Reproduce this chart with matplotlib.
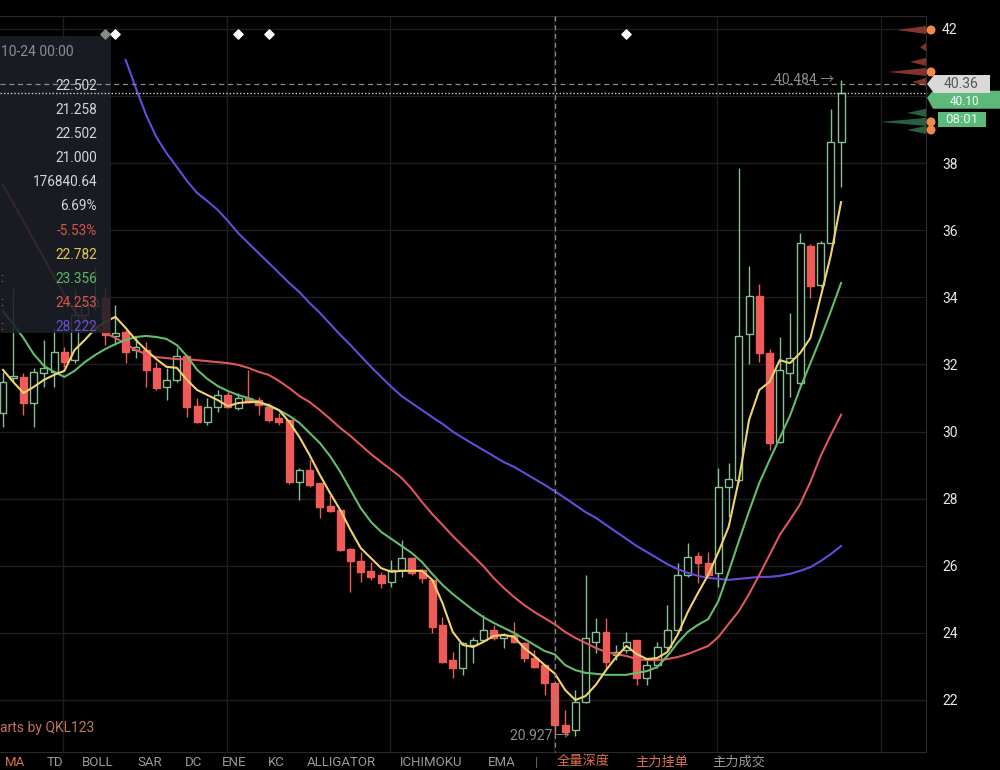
import matplotlib
matplotlib.use('Agg')
import matplotlib.pyplot as plt
from matplotlib.patches import Rectangle, Polygon, Circle
import numpy as np

plt.rcParams['font.family'] = ['Roboto', 'Noto Sans CJK SC', 'DejaVu Sans']

# candles, one per 4h bar
opens = [30.55, 31.60, 31.63, 30.85, 31.75, 31.78, 32.37, 32.13, 33.47, 33.74,
         33.98, 32.85, 32.97, 32.43, 32.43, 31.90, 31.33, 31.54, 32.25, 30.76,
         30.29, 30.73, 31.09, 30.70, 31.00, 30.94, 30.73, 30.41, 30.35, 28.50,
         28.86, 28.47, 27.78, 27.66, 26.50, 26.14, 25.85, 25.73, 25.52, 25.88,
         26.23, 25.88, 25.58, 24.24, 23.19, 22.95, 23.64, 23.79, 24.09, 23.85,
         23.94, 23.70, 23.25, 23.04, 22.502, 21.26, 21.11, 21.94, 23.73, 24.03,
         23.34, 23.49, 23.79, 22.65, 23.04, 23.58, 24.09, 25.73, 26.29, 26.08,
         25.79, 28.35, 28.56, 32.91, 34.04, 32.34, 29.69, 31.75, 31.45, 35.53,
         34.37, 35.62, 38.63]
closes = [31.48, 31.66, 30.85, 31.78, 31.90, 32.37, 32.07, 33.47, 33.77, 33.92,
          32.88, 32.94, 32.37, 32.52, 31.84, 31.30, 31.54, 32.25, 30.73, 30.29,
          30.73, 31.09, 30.73, 31.00, 30.88, 30.79, 30.35, 30.29, 28.50, 28.86,
          28.41, 27.75, 27.63, 26.47, 26.14, 25.81, 25.67, 25.49, 25.88, 26.23,
          25.79, 25.64, 24.18, 23.13, 22.95, 23.70, 23.79, 24.09, 23.85, 23.94,
          23.73, 23.25, 22.98, 22.50, 21.258, 21.05, 21.94, 23.85, 24.03, 23.13,
          23.43, 23.73, 22.65, 23.04, 23.58, 24.09, 25.73, 26.26, 26.08, 25.73,
          28.35, 28.59, 32.85, 34.04, 32.34, 29.66, 31.84, 32.19, 35.62, 34.34,
          35.62, 38.63, 40.10]
highs = [31.78, 34.28, 31.75, 31.90, 32.73, 33.09, 32.52, 34.22, 34.07, 34.91,
         34.28, 33.77, 33.03, 32.82, 32.67, 32.07, 31.90, 32.49, 32.28, 31.00,
         31.00, 31.24, 31.18, 31.15, 31.84, 31.03, 30.85, 30.55, 30.35, 28.92,
         29.15, 28.47, 28.11, 27.69, 26.53, 26.41, 26.11, 25.82, 26.17, 26.77,
         26.26, 25.90, 25.61, 24.47, 23.43, 23.73, 23.88, 24.53, 24.24, 24.00,
         24.33, 23.73, 23.49, 23.04, 22.502, 21.70, 22.30, 25.73, 24.44, 24.44,
         23.64, 24.03, 23.79, 23.19, 23.73, 24.83, 26.08, 26.68, 26.41, 26.41,
         28.92, 29.06, 37.86, 34.94, 34.40, 32.46, 32.82, 33.54, 35.92, 35.59,
         35.68, 39.62, 40.484]
lows = [30.14, 31.48, 30.49, 30.14, 31.33, 31.33, 31.92, 32.04, 33.33, 33.62,
        32.58, 32.58, 32.04, 32.19, 31.33, 31.24, 30.94, 31.48, 30.43, 30.26,
        30.20, 30.58, 30.70, 30.64, 30.85, 30.49, 30.29, 30.20, 28.44, 27.96,
        28.35, 27.42, 27.60, 26.44, 25.22, 25.52, 25.58, 25.34, 25.37, 25.67,
        25.73, 25.49, 24.00, 23.10, 22.65, 22.75, 23.10, 23.73, 23.79, 23.55,
        23.70, 23.13, 22.95, 22.15, 21.000, 20.96, 20.927, 21.91, 23.40, 22.95,
        23.19, 23.40, 22.45, 22.45, 22.95, 23.49, 24.00, 25.67, 25.49, 25.64,
        25.37, 27.45, 28.50, 32.01, 32.07, 29.45, 29.66, 31.03, 31.39, 33.98,
        34.31, 35.62, 37.29]

# moving average lines as drawn on the chart
ma5 = [31.84, 31.48, 31.15, 31.33, 31.54, 31.69, 31.81, 32.43, 32.73, 33.06,
       33.27, 33.42, 33.09, 32.73, 32.43, 32.16, 31.93, 31.90, 31.54, 31.24,
       31.09, 30.94, 30.76, 30.85, 30.88, 30.88, 30.79, 30.64, 30.29, 29.84,
       29.30, 28.71, 28.17, 27.66, 27.07, 26.53, 26.23, 25.93, 25.82, 25.85,
       25.85, 25.85, 25.58, 24.89, 24.03, 23.64, 23.58, 23.73, 23.91, 23.94,
       23.88, 23.55, 23.31, 23.04, 22.782, 22.30, 22.00, 22.12, 22.45, 22.89,
       23.28, 23.61, 23.37, 23.22, 23.25, 23.43, 23.94, 24.62, 25.19, 25.73,
       26.41, 27.16, 28.56, 30.35, 31.24, 31.48, 32.13, 32.04, 32.34, 32.79,
       34.01, 35.26, 36.84]
ma10 = [33.59, 33.21, 32.79, 32.31, 31.96, 31.78, 31.63, 31.81, 32.07, 32.28,
        32.46, 32.61, 32.73, 32.82, 32.85, 32.82, 32.76, 32.58, 32.25, 31.84,
        31.57, 31.36, 31.21, 31.09, 31.00, 30.88, 30.76, 30.64, 30.47, 30.26,
        29.96, 29.66, 29.27, 28.80, 28.26, 27.72, 27.31, 27.01, 26.80, 26.59,
        26.38, 26.11, 25.76, 25.43, 25.16, 24.92, 24.68, 24.47, 24.30, 24.15,
        24.00, 23.82, 23.64, 23.46, 23.356, 23.04, 22.89, 22.81, 22.78, 22.75,
        22.75, 22.75, 22.81, 22.86, 22.98, 23.31, 23.70, 24.03, 24.24, 24.41,
        24.95, 25.82, 26.74, 27.63, 28.47, 29.15, 29.81, 30.47, 31.30, 32.04,
        32.79, 33.59, 34.43]
ma30 = [37.35, 36.81, 36.28, 35.71, 35.17, 34.61, 34.07, 33.59, 33.33, 33.12,
        32.94, 32.79, 32.61, 32.43, 32.31, 32.22, 32.19, 32.16, 32.16, 32.13,
        32.10, 32.07, 32.04, 31.99, 31.90, 31.78, 31.69, 31.51, 31.30, 31.06,
        30.88, 30.64, 30.38, 30.11, 29.87, 29.60, 29.33, 29.09, 28.86, 28.62,
        28.29, 27.90, 27.54, 27.22, 26.89, 26.59, 26.29, 25.99, 25.64, 25.34,
        25.07, 24.83, 24.62, 24.44, 24.253, 24.03, 23.85, 23.70, 23.55, 23.43,
        23.37, 23.31, 23.22, 23.19, 23.19, 23.22, 23.28, 23.37, 23.49, 23.61,
        23.88, 24.27, 24.65, 25.16, 25.73, 26.32, 26.92, 27.37, 27.84, 28.50,
        29.27, 29.90, 30.50]
ma60 = [None] * 12 + [41.08, 40.24, 39.44, 38.78, 38.30, 37.89, 37.47, 37.11,
        36.87, 36.61, 36.28, 35.92, 35.62, 35.32, 35.03, 34.73, 34.43, 34.16,
        33.83, 33.54, 33.21, 32.88, 32.58, 32.25, 31.93, 31.63, 31.33, 31.06,
        30.85, 30.64, 30.43, 30.23, 30.00, 29.81, 29.63, 29.45, 29.27, 29.09,
        28.95, 28.77, 28.59, 28.41, 28.222, 28.02, 27.81, 27.60, 27.43, 27.22,
        27.01, 26.80, 26.59, 26.41, 26.23, 26.05, 25.90, 25.79, 25.70, 25.64,
        25.61, 25.58, 25.61, 25.64, 25.67, 25.67, 25.70, 25.76, 25.85, 25.96,
        26.14, 26.35, 26.59]

price_ticks = [22, 24, 26, 28, 30, 32, 34, 36, 38, 40, 42]
event_marks = [10, 11, 23, 26, 61]
hover_idx = 54
hover_price = 40.36
last_price = 40.10
max_price = 40.484
min_price = 20.927

# order book depth beside the price axis
ask_prices = [41.97, 41.46, 41.02, 40.72, 40.42]
ask_sizes = [29, 6, 16, 38, 14]
bid_prices = [39.50, 39.23, 38.99]
bid_sizes = [19, 46, 19]
dot_prices = [41.97, 40.72, 39.23, 38.99]

panel_rows = [('22.502', '#d6d6d6'), ('21.258', '#d6d6d6'), ('22.502', '#d6d6d6'),
              ('21.000', '#d6d6d6'), ('176840.64', '#d6d6d6'), ('6.69%', '#d6d6d6'),
              ('-5.53%', '#d9534f'), ('22.782', '#e8c85a'), ('23.356', '#5bb56a'),
              ('24.253', '#d9534f'), ('28.222', '#6a4fd6')]
toolbar = [('MA', 5, '#e0714f'), ('TD', 47, '#9a9a9a'), ('BOLL', 82, '#9a9a9a'),
           ('SAR', 137, '#9a9a9a'), ('DC', 185, '#9a9a9a'), ('ENE', 222, '#9a9a9a'),
           ('KC', 268, '#9a9a9a'), ('ALLIGATOR', 307, '#9a9a9a'),
           ('ICHIMOKU', 400, '#9a9a9a'), ('EMA', 488, '#9a9a9a'), ('|', 535, '#6a6a6a'),
           ('全量深度', 557, '#e0714f'), ('主力挂单', 635, '#e0714f'),
           ('主力成交', 712, '#9a9a9a')]

BG = '#000000'
UP = '#84c094'
DOWN = '#ef5b58'
GRID = '#1e1e1e'

fig = plt.figure(figsize=(10, 7.7), dpi=100, facecolor=BG)
ax = fig.add_axes([0, 18 / 770, 0.926, 736 / 770])
ax.set_facecolor(BG)
ax.set_xlim(-0.294, 90.31)
ax.set_ylim(20.45, 42.387)

# the 40 label sits under the price tags, so it is left blank
ax.set_yticks(price_ticks)
ax.set_yticklabels(['' if p == 40 else str(p) for p in price_ticks])
ax.yaxis.tick_right()
ax.tick_params(axis='y', length=0, pad=11.5, labelcolor='#e8e8e8', labelsize=10)
ax.set_xticks([5.9, 21.9, 37.9, 53.9, 69.9, 85.9])
ax.tick_params(axis='x', length=0, labelbottom=False)
ax.grid(color=GRID, linewidth=1)
ax.set_axisbelow(True)
for side in ['top', 'bottom', 'right']:
    ax.spines[side].set_color('#2a2a2a')
ax.spines['left'].set_visible(False)

n = len(opens)
w = 0.68
for i in range(n):
    o, c = opens[i], closes[i]
    up = c >= o
    col = UP if up else DOWN
    ax.vlines(i, lows[i], highs[i], color=col, lw=1, zorder=2)
    h = max(abs(c - o), 0.03)
    ax.add_patch(Rectangle((i - w / 2, min(o, c)), w, h,
                           facecolor=BG if up else DOWN, edgecolor=col,
                           lw=1, zorder=3))

x = np.arange(n)
ax.plot(x, np.array(ma60, dtype=float), color='#6a48dc', lw=1.5, zorder=4)
ax.plot(x, ma30, color='#dd5660', lw=1.5, zorder=4)
ax.plot(x, ma10, color='#63bd6e', lw=1.5, zorder=4)
ax.plot(x, ma5, color='#f0d36a', lw=1.5, zorder=5)

# depth spikes at the right edge
xr = ax.get_xlim()[1]
for prices, sizes, col in [(ask_prices, ask_sizes, '#8f3a32'), (bid_prices, bid_sizes, '#2e6a48')]:
    for p, s in zip(prices, sizes):
        ln = s / 10.22
        ax.add_patch(Polygon([(xr - ln, p), (xr, p - 0.12), (xr, p + 0.12)],
                             closed=True, facecolor=col, edgecolor='none', alpha=0.9, zorder=3))

ax.text(81.3, max_price, f'{max_price} →', ha='right', va='center', color='#8c8c8c', fontsize=10, zorder=6)
ax.text(55.5, min_price, f'{min_price} →', ha='right', va='center', color='#8c8c8c', fontsize=10, zorder=6)

# overlay in pixel units for the interface parts
ui = fig.add_axes([0, 0, 1, 1])
ui.set_xlim(0, 1000)
ui.set_ylim(770, 0)
ui.axis('off')
ui.patch.set_alpha(0)


def to_px(xd, yd):
    X, Y = ax.transData.transform((xd, yd))
    return X, 770 - Y


# info panel
ui.add_patch(Rectangle((0, 36), 111, 297, facecolor='#1c1f26', alpha=0.88, edgecolor='none'))
ui.text(1, 52, '10-24 00:00', color='#8a8d94', fontsize=10, va='center', ha='left')
for k, (txt, col) in enumerate(panel_rows):
    ui.text(97, 86 + k * 24.1, txt, color=col, fontsize=9.8, va='center', ha='right')
for k in range(8, 11):
    ui.text(0, 86 + k * 24.1, ':', color='#8a8d94', fontsize=9, va='center', ha='left')

# event diamonds along the top
for k, m in enumerate(event_marks):
    mx, _ = to_px(m, 30)
    ui.scatter(mx, 34, marker='D', s=22, color='#8a8a8a' if k == 0 else 'white', zorder=6)

# crosshair and last price line
hx, hy = to_px(hover_idx, hover_price)
_, ly = to_px(hover_idx, last_price)
ui.plot([hx, hx], [16, 752], color='#8c8c8c', lw=0.9, ls=(0, (4, 3)))
ui.plot([0, 926], [hy, hy], color='#8c8c8c', lw=0.9, ls=(0, (4, 3)))
ui.plot([0, 926], [ly, ly], color='#cfcfcf', lw=1, ls=(0, (1, 1.5)))

# price tags on the axis
ui.add_patch(Polygon([(927, ly + 5), (933, ly - 2), (1000, ly - 2), (1000, ly + 16), (933, ly + 16)],
                     closed=True, facecolor='#5cb97a', edgecolor='none'))
ui.text(964, ly + 9, f'{last_price:.2f}', color='white', fontsize=8.5, ha='center', va='center')
ui.add_patch(Polygon([(927, hy), (934, hy - 9), (990, hy - 9), (990, hy + 9), (934, hy + 9)],
                     closed=True, facecolor='#d9d9d9', edgecolor='none'))
ui.text(961, hy, f'{hover_price:.2f}', color='#555555', fontsize=10, ha='center', va='center')
ui.add_patch(Rectangle((938, ly + 19), 48, 15, facecolor='#5cb97a', edgecolor='none'))
ui.text(962, ly + 26.5, '08:01', color='#eaf5ee', fontsize=9.5, ha='center', va='center')

for p in dot_prices:
    _, dy = to_px(hover_idx, p)
    ui.add_patch(Circle((931, dy), 4.5, facecolor='#f08a4b', edgecolor='none'))

ui.text(0, 728, 'arts by QKL123', color='#c27456', fontsize=10, va='center', ha='left')
for txt, px, col in toolbar:
    ui.text(px, 762, txt, color=col, fontsize=9.5, va='center', ha='left')

fig.savefig('out.png', dpi=100, facecolor=BG)
